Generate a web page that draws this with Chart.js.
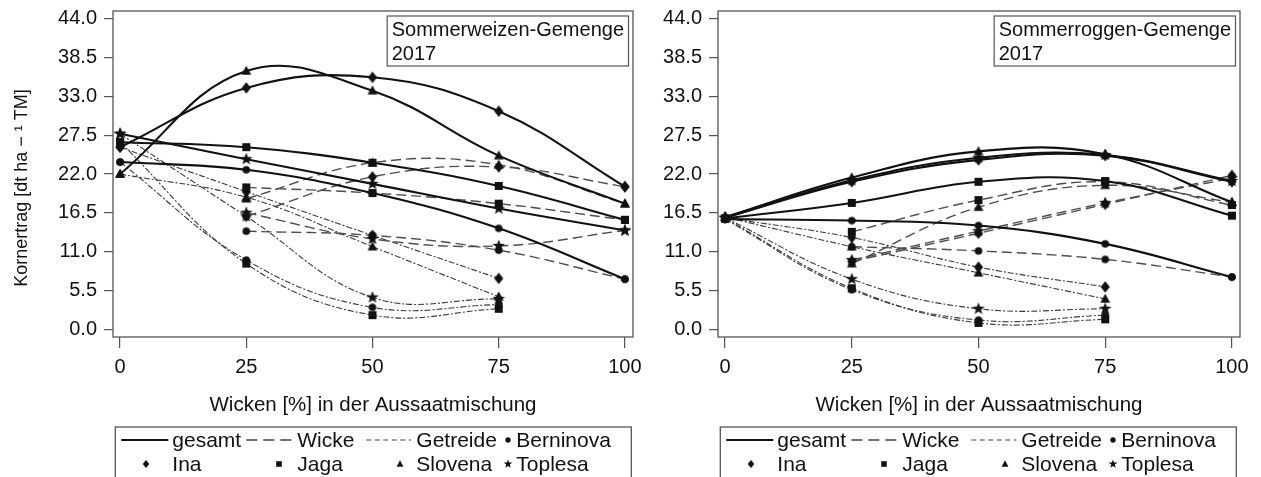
<!DOCTYPE html>
<html>
<head>
<meta charset="utf-8">
<script src="https://cdn.jsdelivr.net/npm/chart.js@4.4.1/dist/chart.umd.min.js"></script>
<style>
  html, body { margin: 0; padding: 0; background: #fff; overflow: hidden; }
  #wrap { position: relative; width: 1261px; height: 477px; }
  canvas { position: absolute; top: 0; }
  #weizen { left: 0; }
  #roggen { left: 640px; }
</style>
</head>
<body>
<div id="wrap">
  <canvas id="weizen" width="660" height="477"></canvas>
  <canvas id="roggen" width="621" height="477"></canvas>
</div>
<script>
// Wickenanteil in der Aussaatmischung (%)
const wicken = [0, 25, 50, 75, 100];
const sorten = ['Berninova', 'Ina', 'Jaga', 'Slovena', 'Toplesa'];
const xTicks = [0, 25, 50, 75, 100];
const yTicks = [0, 5.5, 11, 16.5, 22, 27.5, 33, 38.5, 44];

// Sommerweizen-Gemenge 2017, Zeilen in der Reihenfolge von "sorten"
const weizenGesamt = [
  [23.7, 22.6, 19.3, 14.3, 7.1],
  [25.8, 34.2, 35.7, 30.9, 20.2],
  [26.5, 25.8, 23.6, 20.3, 15.5],
  [22.0, 36.6, 33.8, 24.6, 17.8],
  [27.7, 24.1, 20.6, 17.1, 14.0]
];
const weizenWicke = [
  [null, 13.9, 13.3, 11.2, 7.1],
  [null, 16.0, 21.6, 23.0, 20.2],
  [null, 20.1, 19.3, 17.8, 15.5],
  [null, 18.5, 23.6, 23.3, 17.8],
  [null, 16.5, 12.8, 11.8, 14.0]
];
const weizenGetreide = [
  [23.7, 9.8, 3.1, 3.5, null],
  [25.8, 19.5, 13.3, 7.2, null],
  [26.5, 9.3, 2.0, 2.9, null],
  [22.0, 18.7, 11.7, 4.6, null],
  [27.7, 16.0, 4.5, 4.3, null]
];

// Sommerroggen-Gemenge 2017
const roggenGesamt = [
  [15.6, 15.4, 14.7, 12.1, 7.4],
  [15.8, 20.9, 24.0, 24.6, 20.9],
  [15.7, 17.9, 20.9, 21.0, 16.1],
  [15.9, 21.5, 25.2, 24.8, 18.0],
  [15.8, 21.1, 24.3, 24.7, 21.0]
];
const roggenWicke = [
  [null, 11.7, 11.1, 9.9, 7.4],
  [null, 9.6, 13.6, 17.7, 21.8],
  [null, 13.8, 18.3, 20.9, 17.6],
  [null, 9.3, 17.3, 20.4, 18.0],
  [null, 9.8, 13.9, 17.9, 21.4]
];
const roggenGetreide = [
  [15.6, 5.6, 1.3, 2.0, null],
  [15.8, 13.0, 8.8, 6.0, null],
  [15.7, 5.8, 0.9, 1.4, null],
  [15.9, 11.7, 8.0, 4.3, null],
  [15.8, 7.1, 2.9, 2.9, null]
];

const FONT = "'Liberation Sans', Arial, Helvetica, sans-serif";
const INK = '#111';

// filled marker glyphs, one per variety
function marker(kind, k) {
  const s = Math.ceil(15 * k) + 1;
  const c = document.createElement('canvas');
  c.width = c.height = s;
  const g = c.getContext('2d');
  g.fillStyle = INK;
  g.translate(s / 2, s / 2);
  g.scale(k, k);
  g.beginPath();
  if (kind === 'circle') {
    g.arc(0, 0, 3.8, 0, Math.PI * 2);
  } else if (kind === 'diamond') {
    g.moveTo(0, -5.8); g.lineTo(4.6, 0); g.lineTo(0, 5.8); g.lineTo(-4.6, 0);
  } else if (kind === 'square') {
    g.rect(-4, -4, 8, 8);
  } else if (kind === 'triangle') {
    g.moveTo(0, -5.2); g.lineTo(4.9, 3.8); g.lineTo(-4.9, 3.8);
  } else {
    for (let i = 0; i < 10; i++) {
      const r = i % 2 ? 2.7 : 6.6;
      const a = -Math.PI / 2 + i * Math.PI / 5;
      g.lineTo(Math.cos(a) * r, Math.sin(a) * r);
    }
  }
  g.closePath();
  g.fill();
  return c;
}
const kinds = ['circle', 'diamond', 'square', 'triangle', 'star'];
const marks = kinds.map(k => marker(k, 1));
const legendMarks = kinds.map(k => marker(k, 0.7));

const lineStyle = {
  gesamt:   { color: INK,    width: 2.1, dash: [],            order: 0 },
  wicke:    { color: '#4d4d4d', width: 1.4, dash: [10, 5],    order: 1 },
  getreide: { color: '#3a3a3a', width: 1.1, dash: [6, 2, 2, 2], order: 2 }
};

function makeSet(values, idx, part) {
  const st = lineStyle[part];
  return {
    label: sorten[idx] + ' ' + part,
    data: wicken.map((x, j) => values[j] == null ? null : { x: x, y: values[j] }).filter(Boolean),
    borderColor: st.color,
    borderWidth: st.width,
    borderDash: st.dash,
    pointStyle: marks[idx],
    pointRadius: 4,
    tension: 0.4,
    fill: false,
    order: st.order
  };
}

// frame, inset title, axis title and key
const decor = {
  id: 'decor',
  afterDatasetsDraw(chart, args, o) {
    const ctx = chart.ctx;
    const a = chart.chartArea;
    ctx.save();
    ctx.strokeStyle = '#555';
    ctx.lineWidth = 1.3;
    ctx.strokeRect(a.left, a.top, a.right - a.left, a.bottom - a.top);

    // inset title
    ctx.font = '20px ' + FONT;
    const w = Math.max(ctx.measureText(o.title[0]).width, ctx.measureText(o.title[1]).width) + 9;
    const bx = a.right - 4.5 - w, by = a.top + 5;
    ctx.fillStyle = '#fff';
    ctx.fillRect(bx, by, w, 50);
    ctx.strokeStyle = '#555';
    ctx.lineWidth = 1.2;
    ctx.strokeRect(bx, by, w, 50);
    ctx.fillStyle = INK;
    ctx.textAlign = 'left';
    ctx.textBaseline = 'alphabetic';
    ctx.fillText(o.title[0], bx + 4.5, by + 20);
    ctx.fillText(o.title[1], bx + 4.5, by + 44);

    // x axis title
    const cx = (a.left + a.right) / 2;
    ctx.font = '20.5px ' + FONT;
    ctx.textAlign = 'center';
    ctx.fillText('Wicken [%] in der Aussaatmischung', cx, 411);

    // y axis title
    if (o.yTitle) {
      ctx.save();
      ctx.translate(27, 188);
      ctx.rotate(-Math.PI / 2);
      ctx.font = '18px ' + FONT;
      ctx.textAlign = 'center';
      ctx.fillText(o.yTitle, 0, 0);
      ctx.restore();
    }

    // key
    const lx = a.left + 2.3, ly = 427;
    ctx.strokeStyle = '#555';
    ctx.lineWidth = 1.3;
    ctx.strokeRect(lx, ly, 516, 60);
    const r1 = 447, r2 = 471;
    const seg = (x0, x1, y, st) => {
      ctx.save();
      ctx.strokeStyle = st.color;
      ctx.lineWidth = st.width;
      ctx.setLineDash(st.dash);
      ctx.beginPath();
      ctx.moveTo(x0, y); ctx.lineTo(x1, y);
      ctx.stroke();
      ctx.restore();
    };
    seg(lx + 6, lx + 53, r1 - 7, lineStyle.gesamt);
    seg(lx + 131, lx + 176, r1 - 7, { color: '#444', width: 1.3, dash: [11, 6] });
    seg(lx + 251, lx + 296, r1 - 7, { color: '#444', width: 1.1, dash: [5, 3.5] });
    ctx.font = '21px ' + FONT;
    ctx.fillStyle = INK;
    ctx.textAlign = 'left';
    const cols = [57, 182, 301, 401];
    ['gesamt', 'Wicke', 'Getreide', 'Berninova'].forEach((t, i) => ctx.fillText(t, lx + cols[i], r1));
    ['Ina', 'Jaga', 'Slovena', 'Toplesa'].forEach((t, i) => ctx.fillText(t, lx + cols[i], r2));
    const put = (img, x, y) => ctx.drawImage(img, Math.round(x - img.width / 2), Math.round(y - img.height / 2));
    put(legendMarks[0], lx + 393, r1 - 7);
    put(legendMarks[1], lx + 31, r2 - 7);
    put(legendMarks[2], lx + 164, r2 - 7);
    put(legendMarks[3], lx + 285, r2 - 7);
    put(legendMarks[4], lx + 393, r2 - 7);
    ctx.restore();
  }
};

function panel(id, gesamt, wicke, getreide, opts) {
  const datasets = [];
  sorten.forEach((s, i) => {
    datasets.push(makeSet(getreide[i], i, 'getreide'));
    datasets.push(makeSet(wicke[i], i, 'wicke'));
    datasets.push(makeSet(gesamt[i], i, 'gesamt'));
  });
  const tickFont = { family: FONT, size: 20 };
  return new Chart(document.getElementById(id), {
    type: 'line',
    data: { datasets: datasets },
    plugins: [decor],
    options: {
      responsive: false,
      animation: false,
      devicePixelRatio: 1,
      layout: { padding: { left: 0, right: opts.padRight, top: 11, bottom: 0 } },
      plugins: {
        legend: { display: false },
        tooltip: { enabled: false },
        decor: { title: opts.title, yTitle: opts.yTitle }
      },
      scales: {
        x: {
          type: 'linear',
          min: -1.4,
          max: 101.6,
          afterBuildTicks: s => { s.ticks = xTicks.map(v => ({ value: v })); },
          afterFit: s => { s.height = 140; s.paddingLeft = 0; s.paddingRight = 0; },
          ticks: { font: tickFont, color: INK, padding: 7, maxRotation: 0, autoSkip: false },
          grid: { drawOnChartArea: false, drawTicks: true, tickLength: 11, color: '#555', lineWidth: 1.2 },
          border: { display: false }
        },
        y: {
          type: 'linear',
          min: -1.1,
          max: 45.1,
          afterBuildTicks: s => { s.ticks = yTicks.map(v => ({ value: v })); },
          afterFit: s => { s.width = opts.yWidth; s.paddingTop = 0; s.paddingBottom = 0; },
          ticks: { font: tickFont, color: INK, padding: 7, callback: v => Number(v).toFixed(1) },
          grid: { drawOnChartArea: false, drawTicks: true, tickLength: 9, color: '#555', lineWidth: 1.2 },
          border: { display: false }
        }
      }
    }
  });
}

panel('weizen', weizenGesamt, weizenWicke, weizenGetreide, {
  title: ['Sommerweizen-Gemenge', '2017'],
  yTitle: 'Kornertrag [dt ha \u2212 \u00b9 TM]',
  yWidth: 113,
  padRight: 27
});
panel('roggen', roggenGesamt, roggenWicke, roggenGetreide, {
  title: ['Sommerroggen-Gemenge', '2017'],
  yTitle: null,
  yWidth: 78,
  padRight: 21
});
</script>
</body>
</html>
